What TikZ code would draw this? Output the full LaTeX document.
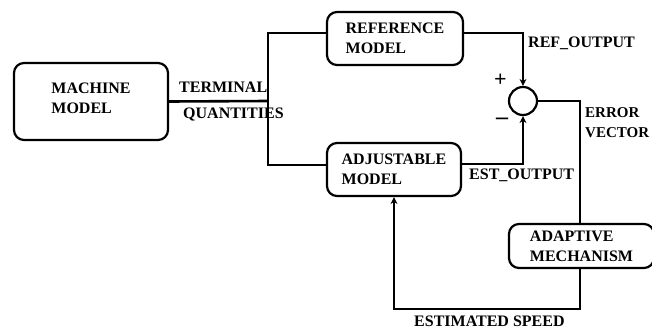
\documentclass[tikz,border=0pt]{standalone}
\usepackage{fontspec}
\setmainfont{Liberation Serif}
\usetikzlibrary{arrows.meta,calc}
\begin{document}
\begin{tikzpicture}[x=1pt,y=-1pt,
  blk/.style={draw,line width=2.2pt,rounded corners=10pt,align=left,inner sep=0pt,
    font=\fontsize{16}{20}\selectfont\bfseries},
  lbl/.style={inner sep=0pt,anchor=west,align=left,font=\fontsize{16}{20}\selectfont\bfseries},
  wire/.style={line width=2.6pt},
  arr/.style={wire,-{Stealth[length=7pt,width=7pt]}}]
\useasboundingbox (0,0) rectangle (652,332);
\clip (0,0) rectangle (652,332);
\node[blk,minimum width=154pt,minimum height=77pt] (mm) at (91,101.5) {MACHINE\\MODEL\\[-14pt]};
\node[blk,minimum width=136pt,minimum height=53pt] (ref) at (395,38.5) {REFERENCE\\MODEL};
\node[blk,minimum width=134pt,minimum height=53pt] (adj) at (394,169.5) {ADJUSTABLE\\MODEL};
\node[draw,circle,line width=2.2pt,minimum size=28pt,inner sep=0pt] (sum) at (523,101) {};
\node[blk,minimum width=145pt,minimum height=44pt] (adp) at (581.5,246) {ADAPTIVE\\MECHANISM};
\coordinate (j) at (268,101);
\coordinate (bot) at (580,309);
% connectors
\draw[wire] (mm.east) -- (j);
\draw[wire] ([yshift=5.5pt]ref.west) -| (j) |- ([yshift=4.5pt]adj.west);
\draw[arr] ([yshift=5.5pt]ref.east) -| (sum.north);
\draw[arr] ([yshift=5.5pt]adj.east) -| (sum.south);
\draw[wire] (sum.east) -| ([xshift=-1.5pt]adp.north);
\draw[arr] ([xshift=-1.5pt]adp.south) |- (bot) -| (adj.south);
% labels
\node[lbl] (t1) at (179,87) {TERMINAL};
\node[lbl] (t2) at (183,114) {QUANTITIES};
\node[lbl] (t3) at (528,43) {REF\_OUTPUT};
\node[lbl,font=\fontsize{22}{20}\selectfont\bfseries] (plus) at (494,80) {+};
\node[lbl,font=\fontsize{24}{20}\selectfont\bfseries] (minus) at (496,121) {–};
\node[lbl,font=\fontsize{15}{20}\selectfont\bfseries] (t4) at (585,123) {ERROR\\VECTOR};
\node[lbl] (t5) at (469,175) {EST\_OUTPUT};
\node[lbl] (t6) at (414,321) {ESTIMATED SPEED};
\end{tikzpicture}
\end{document}
